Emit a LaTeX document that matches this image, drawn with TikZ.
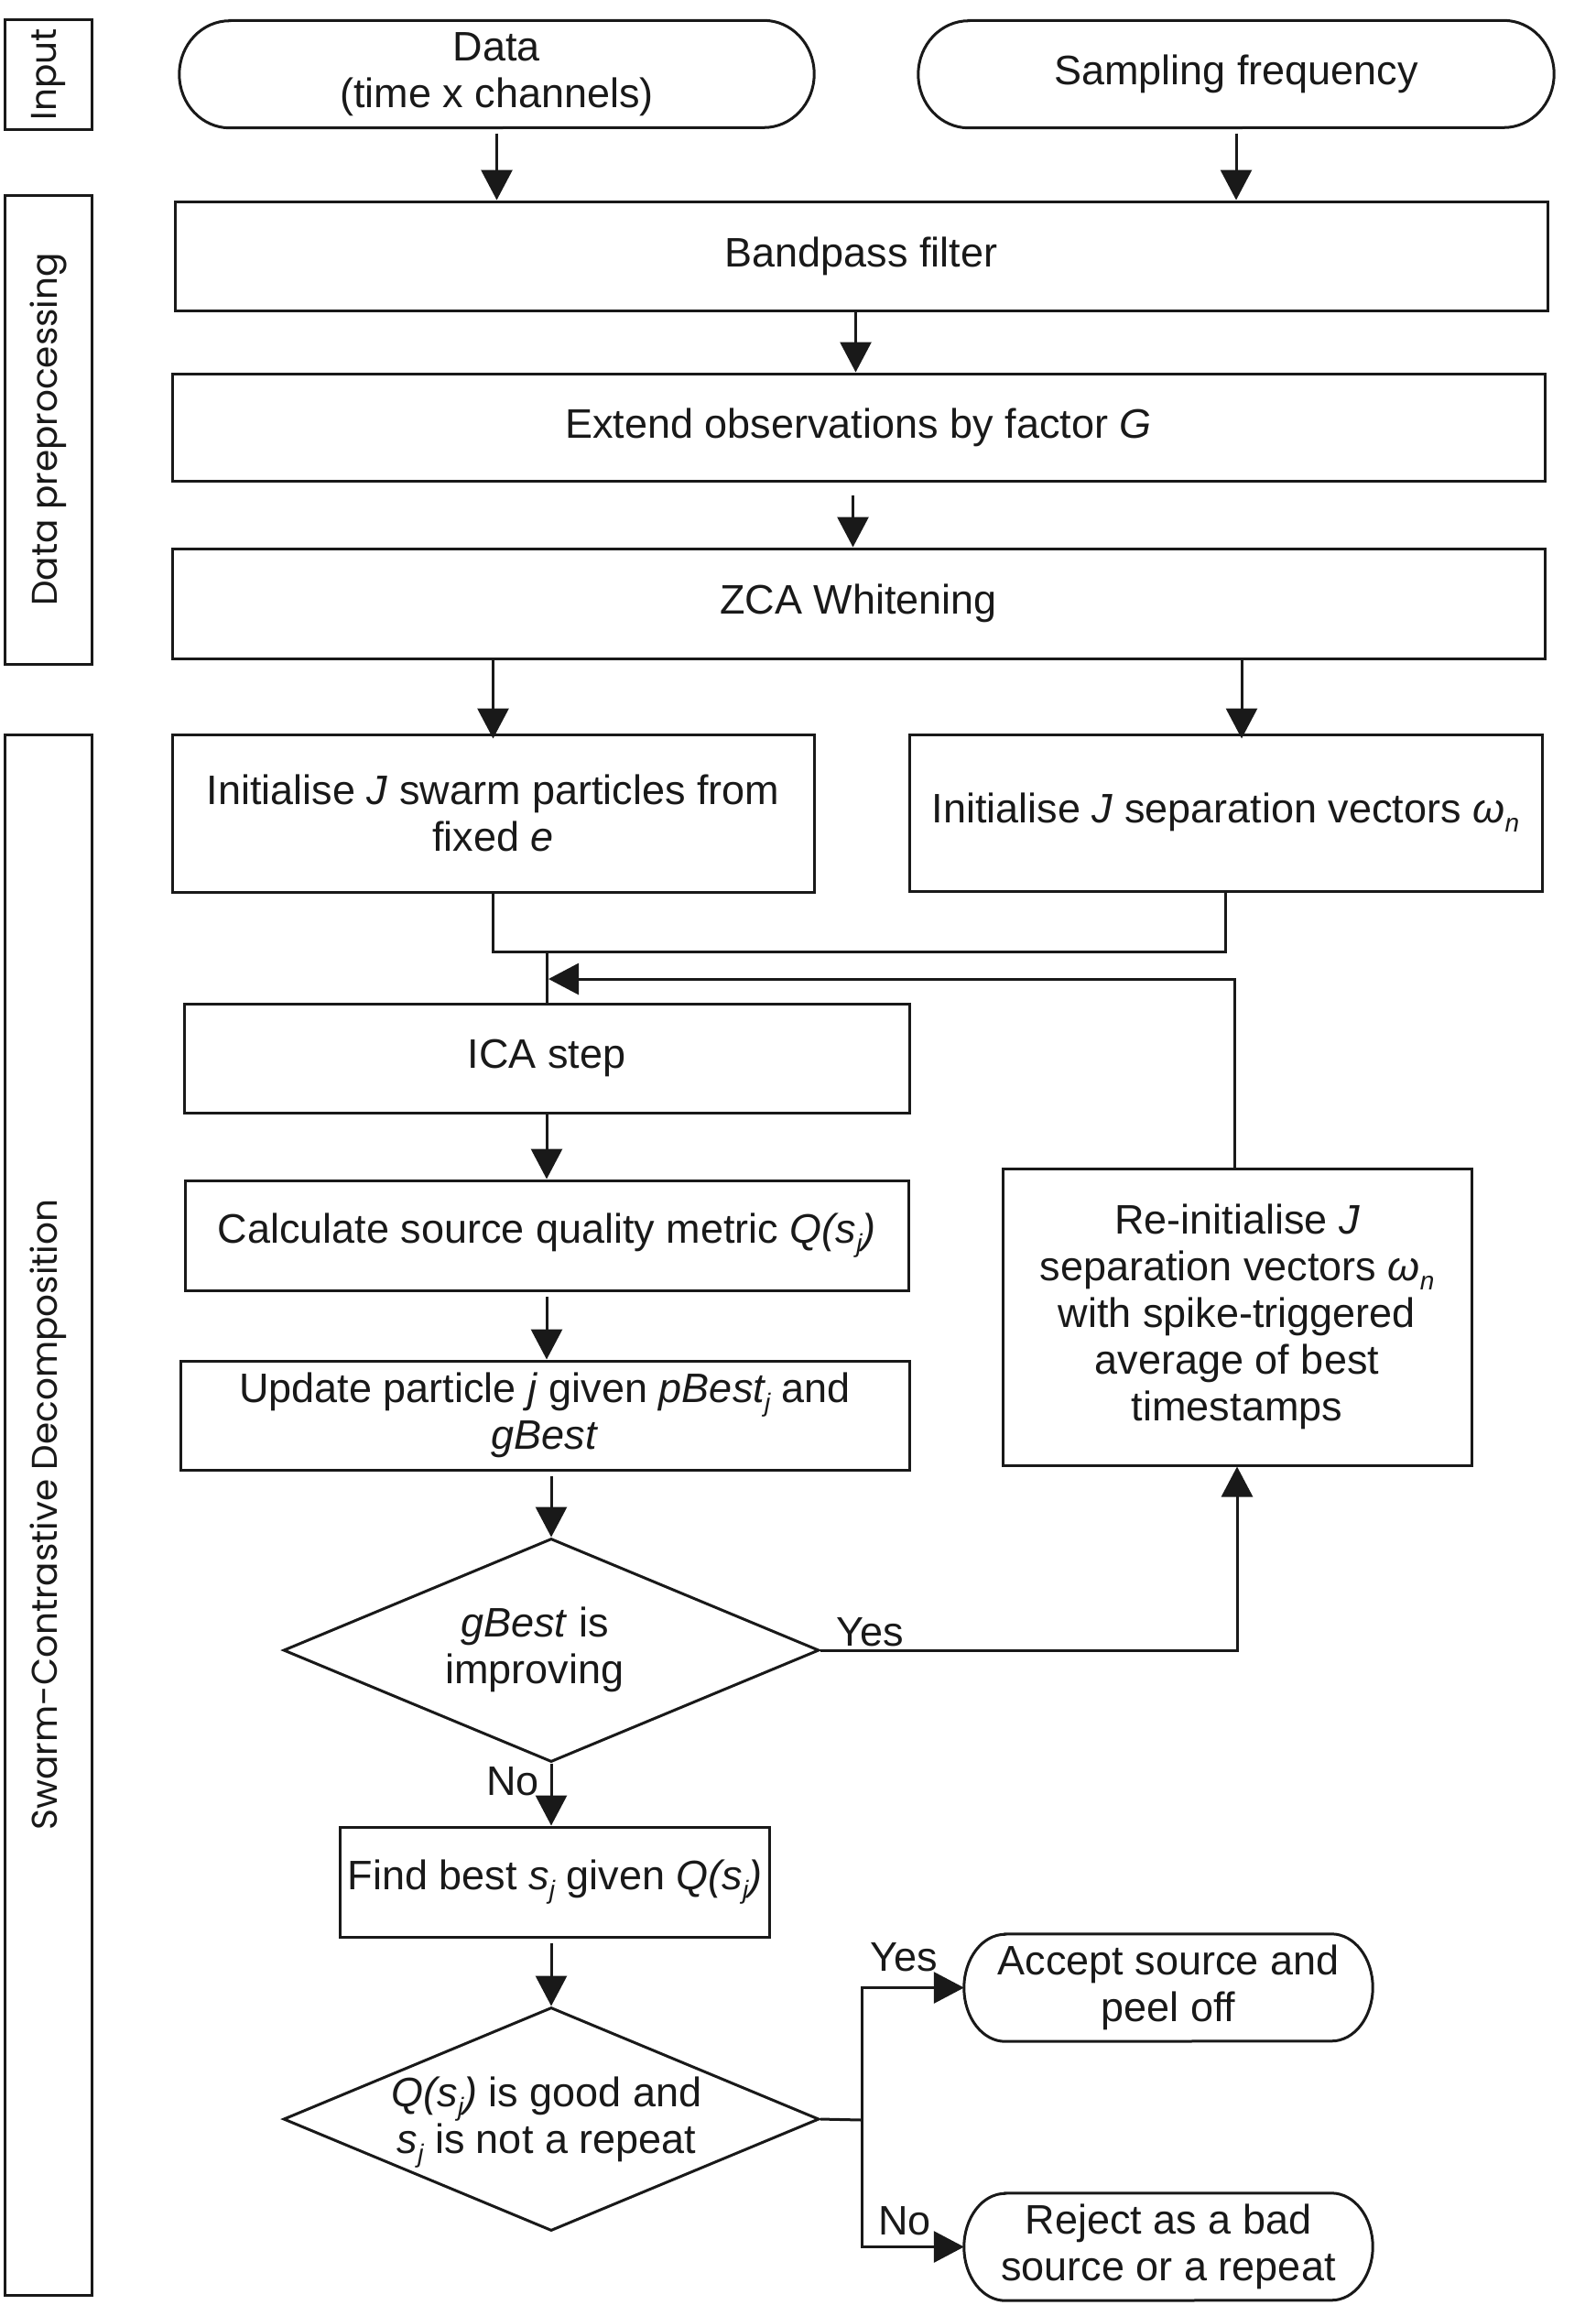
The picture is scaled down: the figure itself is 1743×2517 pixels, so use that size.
\documentclass[tikz,border=0pt]{standalone}
\usepackage{fontspec}
\setmainfont{Liberation Sans}
\newfontfamily\sidefont{Poppins}
\usetikzlibrary{arrows.meta,shapes.geometric,calc}

% italic lowered index, e.g. s_j
\newcommand{\lowidx}[1]{\raisebox{-0.22em}{\fontsize{28}{28}\selectfont\itshape #1}}

\begin{document}
\begin{tikzpicture}[x=1pt,y=-1pt,
  every node/.style={font=\fontsize{45}{51}\selectfont, text=black!90},
  bord/.style={draw=black!90, line width=3pt},
  procbox/.style={bord, rectangle, inner sep=0pt, align=center},
  termbox/.style={rectangle, inner sep=0pt, align=center},
  decbox/.style={bord, diamond, inner sep=0pt, aspect=2.4, align=center},
  sidebox/.style={bord, rectangle, inner sep=0pt, minimum width=95pt},
  sidetext/.style={rotate=90, inner sep=0pt, font=\sidefont\fontsize{39}{44}\selectfont},
  conn/.style={draw=black!90, line width=3pt},
  arr/.style={conn, -{Triangle[length=33pt,width=34pt]}},
  lbl/.style={inner sep=0pt},
]
\useasboundingbox (0,0) rectangle (1743,2517);

% ---- stage boxes on the left
\node[sidebox, minimum height=120pt] (inbox) at (52.5,81) {};
\node[sidetext] (intext) at (inbox.center) {Input};
\node[sidebox, minimum height=512pt] (prebox) at (52.5,469) {};
\node[sidetext] (pretext) at (prebox.center) {Data preprocessing};
\node[sidebox, minimum height=1704pt] (scdbox) at (52.5,1654) {};
\node[sidetext] (scdtext) at (scdbox.center) {Swarm-Contrastive Decomposition};

% ---- inputs
\node[termbox, minimum width=693pt, minimum height=117pt] (data) at (542.5,81) {Data\\(time x channels)};
\node[termbox, minimum width=694pt, minimum height=117pt] (samp) at (1350,81) {Sampling frequency};

% ---- preprocessing
\node[procbox, minimum width=1499pt, minimum height=119pt] (band) at (940.5,279.5) {Bandpass filter};
\node[procbox, minimum width=1499pt, minimum height=117pt] (ext) at (937.5,466.5) {Extend observations by factor \textit{G}};
\node[procbox, minimum width=1499pt, minimum height=120pt] (zca) at (937.5,659) {ZCA Whitening};

% ---- decomposition
\node[procbox, minimum width=701pt, minimum height=172pt] (initsw) at (538.5,888) {Initialise \textit{J} swarm particles from\\fixed \textit{e}};
\node[procbox, minimum width=691pt, minimum height=171pt] (initsep) at (1338.5,887.5) {Initialise \textit{J} separation vectors \textit{ω}\lowidx{n}};
\node[procbox, minimum width=792pt, minimum height=119pt] (ica) at (597,1155.5) {ICA step};
\node[procbox, minimum width=790pt, minimum height=120pt] (calc) at (597,1349) {Calculate source quality metric \textit{Q(s\lowidx{j})}};
\node[procbox, minimum width=796pt, minimum height=119pt] (upd) at (595,1545.5) {Update particle \textit{j} given \textit{pBest\lowidx{j}} and\\\textit{gBest}};
\node[procbox, minimum width=512pt, minimum height=324pt] (reinit) at (1351,1438) {Re-initialise \textit{J}\\separation vectors \textit{ω}\lowidx{n}\\with spike-triggered\\average of best\\timestamps};
\node[decbox, minimum width=585pt, minimum height=244pt] (d1) at (602,1802) {};
\node[lbl, align=center] (d1text) at (584,1801) {\textit{gBest} is\\improving};
\node[procbox, minimum width=469pt, minimum height=120pt] (find) at (606,2055) {Find best \textit{s\lowidx{j}} given \textit{Q(s\lowidx{j})}};
\node[decbox, minimum width=585pt, minimum height=244pt] (d2) at (602,2314) {};
\node[lbl, align=center] (d2text) at (597,2318) {\textit{Q(s\lowidx{j})} is good and\\\textit{s\lowidx{j}} is not a repeat};
\node[termbox, minimum width=446pt, minimum height=117pt] (accept) at (1276,2170.5) {Accept source and\\peel off};
\node[termbox, minimum width=446pt, minimum height=117pt] (reject) at (1276,2453.5) {Reject as a bad\\source or a repeat};

% ---- terminal outlines (flat top and bottom, elliptic ends)
\foreach \n/\r in {data/55, samp/55, accept/45, reject/45}{
  \draw[bord] ([xshift=\r pt]\n.north west) -- ([xshift=-\r pt]\n.north east)
    arc[start angle=90, end angle=-90, x radius=\r pt, y radius=58.5pt]
    -- ([xshift=\r pt]\n.south west)
    arc[start angle=270, end angle=90, x radius=\r pt, y radius=58.5pt] -- cycle;
}

% ---- connectors
\draw[arr, shorten <=6pt] (data.south) -- (data.south |- band.north);
\draw[arr, shorten <=6pt] (samp.south) -- (samp.south |- band.north);
\draw[arr] ([xshift=-6pt]band.south) -- ([xshift=-6pt]band.south |- ext.north);
\draw[arr, shorten <=14pt] ([xshift=-6pt]ext.south) -- ([xshift=-6pt]ext.south |- zca.north);
\draw[arr] (zca.south -| initsw.north) -- ([yshift=-6pt]initsw.north);
\draw[arr] (zca.south -| {1356,0}) -- ([yshift=-6pt]initsep.north -| {1356,0});

\coordinate (jn) at (597,1039);
\draw[conn] (initsw.south) -- (initsw.south |- jn) -- (initsep.south |- jn) -- (initsep.south);
\draw[conn] (jn) -- (jn |- ica.north);
\coordinate (fb) at (599,1069);
\draw[arr] ([xshift=-3pt]reinit.north) |- (fb);

\draw[arr] (ica.south) -- (calc.north);
\draw[arr, shorten <=5pt] (calc.south) -- (calc.south |- upd.north);
\draw[arr, shorten <=5pt] (upd.south -| d1.north) -- (d1.north);

\draw[arr] (d1.east) -| (reinit.south);
\node[lbl] (yes1) at (950,1782) {Yes};
\draw[arr] (d1.south) -- (d1.south |- find.north);
\node[lbl] (no1) at (560,1945) {No};

\draw[arr, shorten <=5pt] (find.south -| d2.north) -- (d2.north);
\coordinate (br) at (941,2315);
\draw[conn] (d2.east) -- (br);
\draw[arr] (br) |- (accept.west);
\draw[arr] (br) |- (reject.west);
\node[lbl] (yes2) at (987,2137) {Yes};
\node[lbl] (no2) at (988,2425) {No};
\end{tikzpicture}
\end{document}
